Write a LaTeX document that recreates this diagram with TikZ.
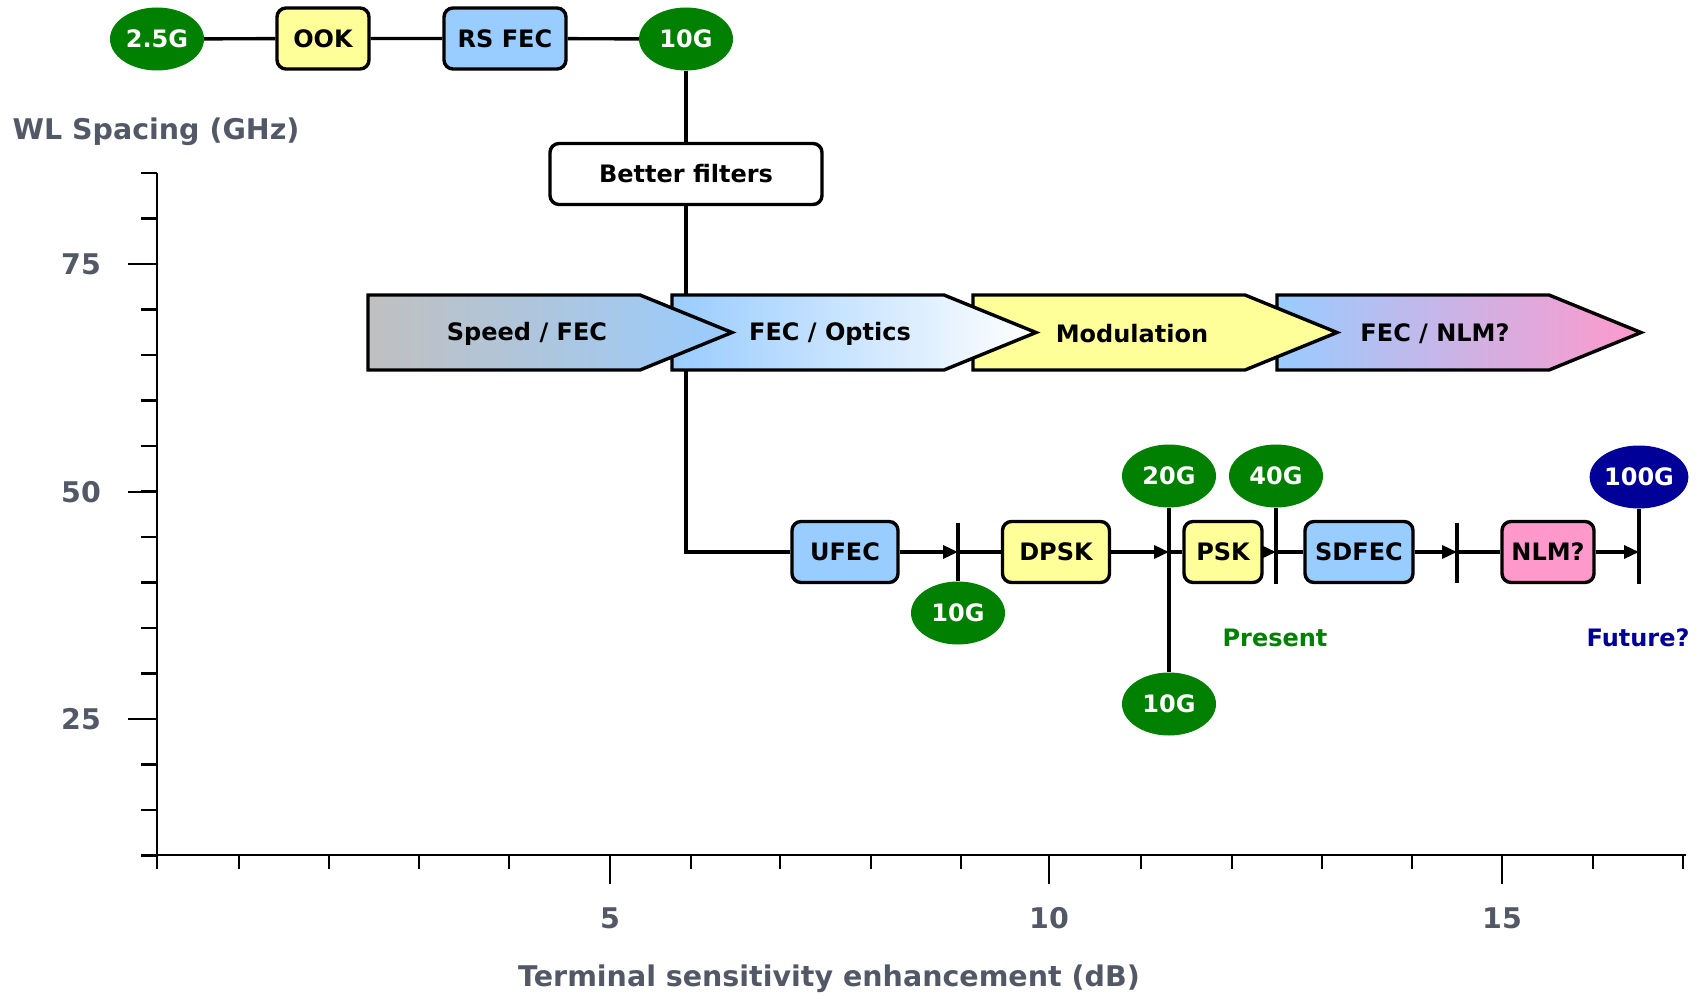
\documentclass[tikz,border=0pt]{standalone}
\usepackage{fontspec}
\setmainfont{DejaVu Sans}
\usepackage{xcolor}
\usepackage{tikz}
\usetikzlibrary{shapes.geometric,arrows.meta}

\definecolor{boxyellow}{HTML}{FFFF99}
\definecolor{boxblue}{HTML}{99CCFF}
\definecolor{boxpink}{HTML}{FF99CC}
\definecolor{boxgray}{HTML}{C0C0C0}
\definecolor{rategreen}{HTML}{008000}
\definecolor{ratenavy}{HTML}{000099}
\definecolor{axisgray}{HTML}{525866}

\begin{document}
\begin{tikzpicture}[x=1pt,y=-1pt,
        font=\fontsize{24}{27}\selectfont\bfseries,
        rate/.style={ellipse,fill=rategreen,text=white,minimum width=94pt,minimum height=63pt,inner sep=0pt},
        tech/.style={draw,line width=3.4pt,rounded corners=9pt,minimum height=61pt,inner sep=0pt},
        link/.style={line width=3.4pt},
        arr/.style={line width=3.4pt,-{Triangle[length=15pt,width=13pt]}},
        chev/.style={draw,line width=3.4pt,line join=miter},
        axlabel/.style={text=axisgray,font=\fontsize{28.5}{32}\selectfont\bfseries}]
    \useasboundingbox (0,0) rectangle (1703,995);

    % 坐标轴
    \draw[line width=2.4pt] (157,173) -- (157,856);
    \foreach \k in {0,...,15}
        \draw[line width=2.2pt] (141,{173+45.5*\k}) -- (157,{173+45.5*\k});
    \foreach \yy/\lab in {264/75,492/50,719/25} {
        \draw[line width=2.2pt] (128,\yy) -- (157,\yy);
        \node[axlabel] (y\lab) at (81,\yy) {\lab};
    }
    \draw[line width=2.8pt] (141,855) -- (1686,855);
    \foreach \xx in {157,239,329,419,509,691,780,871,961,1141,1232,1322,1412,1593,1683}
        \draw[line width=1.8pt] (\xx,855) -- (\xx,869);
    \foreach \xx/\lab in {610/5,1049/10,1502/15} {
        \draw[line width=1.8pt] (\xx,855) -- (\xx,884);
        \node[axlabel] (x\lab) at (\xx,918) {\lab};
    }
    \node[axlabel] (ylabel) at (156,132) {WL Spacing (GHz)};
    \node[axlabel] (xlabel) at (829,979) {Terminal sensitivity enhancement (dB)};

    % 上面一行
    \node[rate] (gA) at (157,39) {2.5G};
    \node[tech,fill=boxyellow,minimum width=92pt] (ook) at (323,38.5) {OOK};
    \node[tech,fill=boxblue,minimum width=122pt] (rsfec) at (505,38.5) {RS FEC};
    \node[rate] (tenA) at (686,39) {10G};
    \draw[link] (gA) -- (ook) -- (rsfec) -- (tenA);
    \node[tech,fill=white,minimum width=272pt] (filters) at (686,174) {Better filters};

    % 下面一行
    \node[tech,fill=boxblue,minimum width=106pt] (ufec) at (845,552) {UFEC};
    \node[tech,fill=boxyellow,minimum width=107pt] (dpsk) at (1056,552) {DPSK};
    \node[tech,fill=boxyellow,minimum width=78pt] (psk) at (1223,552) {PSK};
    \node[tech,fill=boxblue,minimum width=108pt] (sdfec) at (1359,552) {SDFEC};
    \node[tech,fill=boxpink,minimum width=92pt] (nlm) at (1548,552) {NLM?};
    \node[rate] (tenB) at (958,613) {10G};
    \node[rate] (twentyG) at (1169,476) {20G};
    \node[rate] (tenC) at (1169,704) {10G};
    \node[rate] (fortyG) at (1276,476) {40G};
    \node[rate,fill=ratenavy] (hundredG) at (1639,477) {100G};
    \node[text=rategreen] (present) at (1275,638) {Present};
    \node[text=ratenavy] (future) at (1638,638) {Future?};
    \coordinate (tickA) at (958,523);
    \coordinate (tickB) at (1457,523);
    \coordinate (tickBb) at (1457,583);

    \draw[link] (tenA) -- (filters);
    \draw[link] (filters) -- (filters |- ufec) -- (ufec);
    \draw[arr] (ufec) -- (tenB |- ufec);
    \draw[link] (tickA) -- (tenB);
    \draw[link] (tenB |- ufec) -- (dpsk);
    \draw[arr] (dpsk) -- (twentyG |- dpsk);
    \draw[link] (twentyG) -- (tenC);
    \draw[link] (twentyG |- psk) -- (psk);
    \draw[arr] (psk) -- (fortyG |- psk);
    \draw[link] (fortyG) -- (fortyG |- psk.south);
    \draw[link] (fortyG |- psk) -- (sdfec);
    \draw[arr] (sdfec) -- (tickB |- sdfec);
    \draw[link] (tickB) -- (tickBb);
    \draw[link] (tickB |- sdfec) -- (nlm);
    \draw[arr] (nlm) -- (hundredG |- nlm);
    \draw[link] (hundredG) -- (hundredG |- nlm.south);

    % 箭头带, 从右往左画
    \foreach \xa/\ca/\cb in {1277/boxblue/boxpink,973/boxyellow/boxyellow,672/boxblue/white,368/boxgray/boxblue}
        \draw[chev,left color=\ca,right color=\cb] (\xa,295) -- ++(272,0) -- ++(92,37.5) -- ++(-92,37.5) -- ++(-272,0) -- cycle;
    \node (speed) at (527,334) {Speed / FEC};
    \node (optics) at (830,334) {FEC / Optics};
    \node (modul) at (1132,334) {Modulation};
    \node (fecnlm) at (1435,334) {FEC / NLM?};
\end{tikzpicture}
\end{document}
